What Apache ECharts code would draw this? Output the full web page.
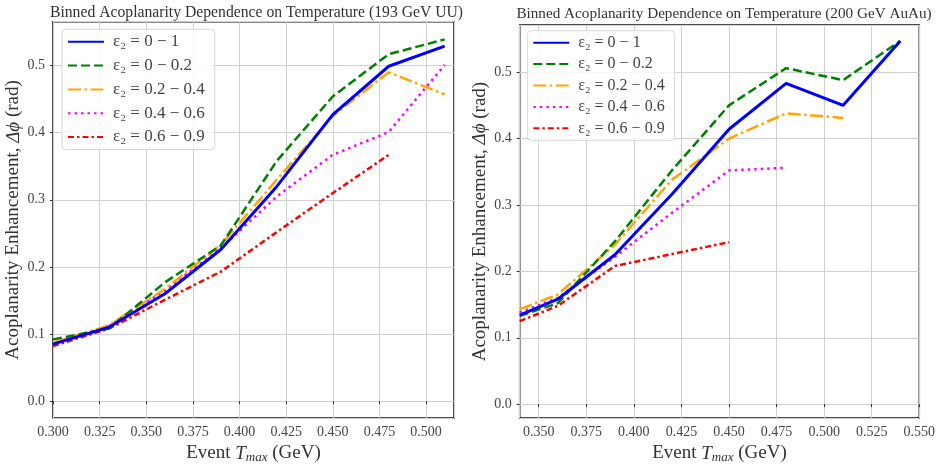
<!DOCTYPE html>
<html>
<head>
<meta charset="utf-8">
<script src="https://cdn.jsdelivr.net/npm/echarts@6/dist/echarts.min.js"></script>
<style>
  html, body { margin: 0; padding: 0; background: #fff; }
  #chart { width: 939px; height: 469px; }
</style>
</head>
<body>
<div id="chart"></div>
<script>
// bin centres (GeV)
const tUU = [0.30, 0.33, 0.36, 0.39, 0.42, 0.45, 0.48, 0.51];
const tAuAu = [0.34, 0.36, 0.39, 0.42, 0.45, 0.48, 0.51, 0.54];

// 193 GeV UU
const uuAll = [0.085, 0.110, 0.160, 0.226, 0.320, 0.427, 0.499, 0.529];
const uu0002 = [0.092, 0.108, 0.177, 0.232, 0.358, 0.454, 0.517, 0.539];
const uu0204 = [0.087, 0.113, 0.167, 0.233, 0.330, 0.425, 0.490, 0.457];
const uu0406 = [0.086, 0.112, 0.165, 0.228, 0.305, 0.367, 0.401, 0.501];
const uu0609 = [0.082, 0.108, 0.151, 0.193, 0.252, 0.310, 0.367];

// 200 GeV AuAu
const auAll = [0.134, 0.158, 0.225, 0.316, 0.414, 0.483, 0.450, 0.547];
const au0002 = [0.133, 0.152, 0.245, 0.352, 0.450, 0.506, 0.488, 0.547];
const au0204 = [0.143, 0.165, 0.240, 0.338, 0.400, 0.438, 0.431];
const au0406 = [0.138, 0.160, 0.222, 0.288, 0.352, 0.356];
const au0609 = [0.125, 0.148, 0.208, 0.226, 0.244];

const names = ['ε₂ = 0 − 1', 'ε₂ = 0 − 0.2', 'ε₂ = 0.2 − 0.4', 'ε₂ = 0.4 − 0.6', 'ε₂ = 0.6 − 0.9'];
const titles = [
  'Binned Acoplanarity Dependence on Temperature (193 GeV UU)',
  'Binned Acoplanarity Dependence on Temperature (200 GeV AuAu)'
];

const FONT = 'Liberation Serif';
const styles = [
  { color: '#0000ff', width: 3, type: 'solid' },
  { color: '#008000', width: 2.5, type: [9, 4] },
  { color: '#ffa500', width: 2.5, type: [13, 3.5, 2.5, 3.5] },
  { color: '#ff00ff', width: 2.5, type: [2.5, 4] },
  { color: '#ff0000', width: 2.5, type: [6, 3, 2.5, 3] }
];

function pairs(xs, ys) {
  return ys.map((y, i) => [xs[i], y]);
}

function makeSeries(xs, sets, idx) {
  return sets.map((ys, i) => ({
    name: names[i],
    type: 'line',
    xAxisIndex: idx,
    yAxisIndex: idx,
    data: pairs(xs, ys),
    symbol: 'none',
    smooth: false,
    lineStyle: { color: styles[i].color, width: styles[i].width, type: styles[i].type },
    itemStyle: { color: styles[i].color },
    z: 10 - i
  }));
}

function xAxis(idx, min, max) {
  return {
    type: 'value',
    gridIndex: idx,
    min: min,
    max: max,
    minInterval: 0.025,
    maxInterval: 0.025,
    name: '{n|Event }{i|T}{s|max}{n| (GeV)}',
    nameLocation: 'middle',
    nameGap: 19,
    nameTextStyle: {
      rich: {
        n: { fontFamily: FONT, fontSize: 19, color: '#333' },
        i: { fontFamily: FONT, fontSize: 19, fontStyle: 'italic', color: '#333' },
        s: { fontFamily: FONT, fontSize: 13, fontStyle: 'italic', color: '#333', padding: [8, 0, 0, 0] }
      }
    },
    axisLine: { show: false },
    axisTick: { show: true, length: 3, lineStyle: { color: '#333' } },
    splitLine: { show: true, lineStyle: { color: '#d0d0d0', width: 1 } },
    axisLabel: {
      fontFamily: FONT, fontSize: 14, color: '#444', margin: 7,
      showMinLabel: idx === 0, showMaxLabel: idx === 1,
      formatter: v => v.toFixed(3)
    }
  };
}

function yAxis(idx, min, max, gap) {
  return {
    type: 'value',
    gridIndex: idx,
    min: min,
    max: max,
    minInterval: 0.1,
    maxInterval: 0.1,
    name: '{n|Acoplanarity Enhancement, }{i|Δϕ}{n| (rad)}',
    nameLocation: 'middle',
    nameGap: gap,
    nameTextStyle: {
      rich: {
        n: { fontFamily: FONT, fontSize: 19, color: '#333' },
        i: { fontFamily: FONT, fontSize: 19, fontStyle: 'italic', color: '#333' }
      }
    },
    axisLine: { show: false },
    axisTick: { show: true, length: 3, lineStyle: { color: '#333' } },
    splitLine: { show: true, lineStyle: { color: '#d0d0d0', width: 1 } },
    axisLabel: {
      fontFamily: FONT, fontSize: 14, color: '#444', margin: 8,
      showMinLabel: false, showMaxLabel: false,
      formatter: v => v.toFixed(1)
    }
  };
}

function legend(left, top, fontSize, gap) {
  return {
    orient: 'vertical',
    left: left,
    top: top,
    data: names,
    itemWidth: 36,
    itemHeight: 12,
    itemGap: gap,
    padding: [4, 10, 4, 5],
    backgroundColor: 'rgba(255,255,255,0.85)',
    borderColor: '#d8d8d8',
    borderWidth: 1,
    borderRadius: 4,
    selectedMode: false,
    itemStyle: { opacity: 0 },
    textStyle: { fontFamily: FONT, fontSize: fontSize, color: '#444', padding: [0, 0, 0, 4] }
  };
}

const chart = echarts.init(document.getElementById('chart'), null, { renderer: 'canvas' });

chart.setOption({
  animation: false,
  backgroundColor: '#fff',
  title: [
    { text: titles[0], left: 251.5, top: 0, textAlign: 'center',
      textStyle: { fontFamily: FONT, fontSize: 15.7, fontWeight: 'normal', color: '#333' } },
    { text: titles[1], left: 719, top: 2, textAlign: 'center',
      textStyle: { fontFamily: FONT, fontSize: 15.2, fontWeight: 'normal', color: '#333' } }
  ],
  grid: [
    { left: 53, top: 21.7, width: 401, height: 397.6, show: true, borderColor: '#111', borderWidth: 1.5, backgroundColor: 'transparent' },
    { left: 519.7, top: 25, width: 399.6, height: 394.3, show: true, borderColor: '#111', borderWidth: 1.5, backgroundColor: 'transparent' }
  ],
  xAxis: [xAxis(0, 0.3, 0.515), xAxis(1, 0.34, 0.55)],
  yAxis: [yAxis(0, -0.0253, 0.5654, 30), yAxis(1, -0.021, 0.571, 30)],
  legend: [legend(62, 29.3, 17, 6.8), legend(527.3, 30.7, 16, 5.4)],
  series: makeSeries(tUU, [uuAll, uu0002, uu0204, uu0406, uu0609], 0)
    .concat(makeSeries(tAuAu, [auAll, au0002, au0204, au0406, au0609], 1))
});
</script>
</body>
</html>
